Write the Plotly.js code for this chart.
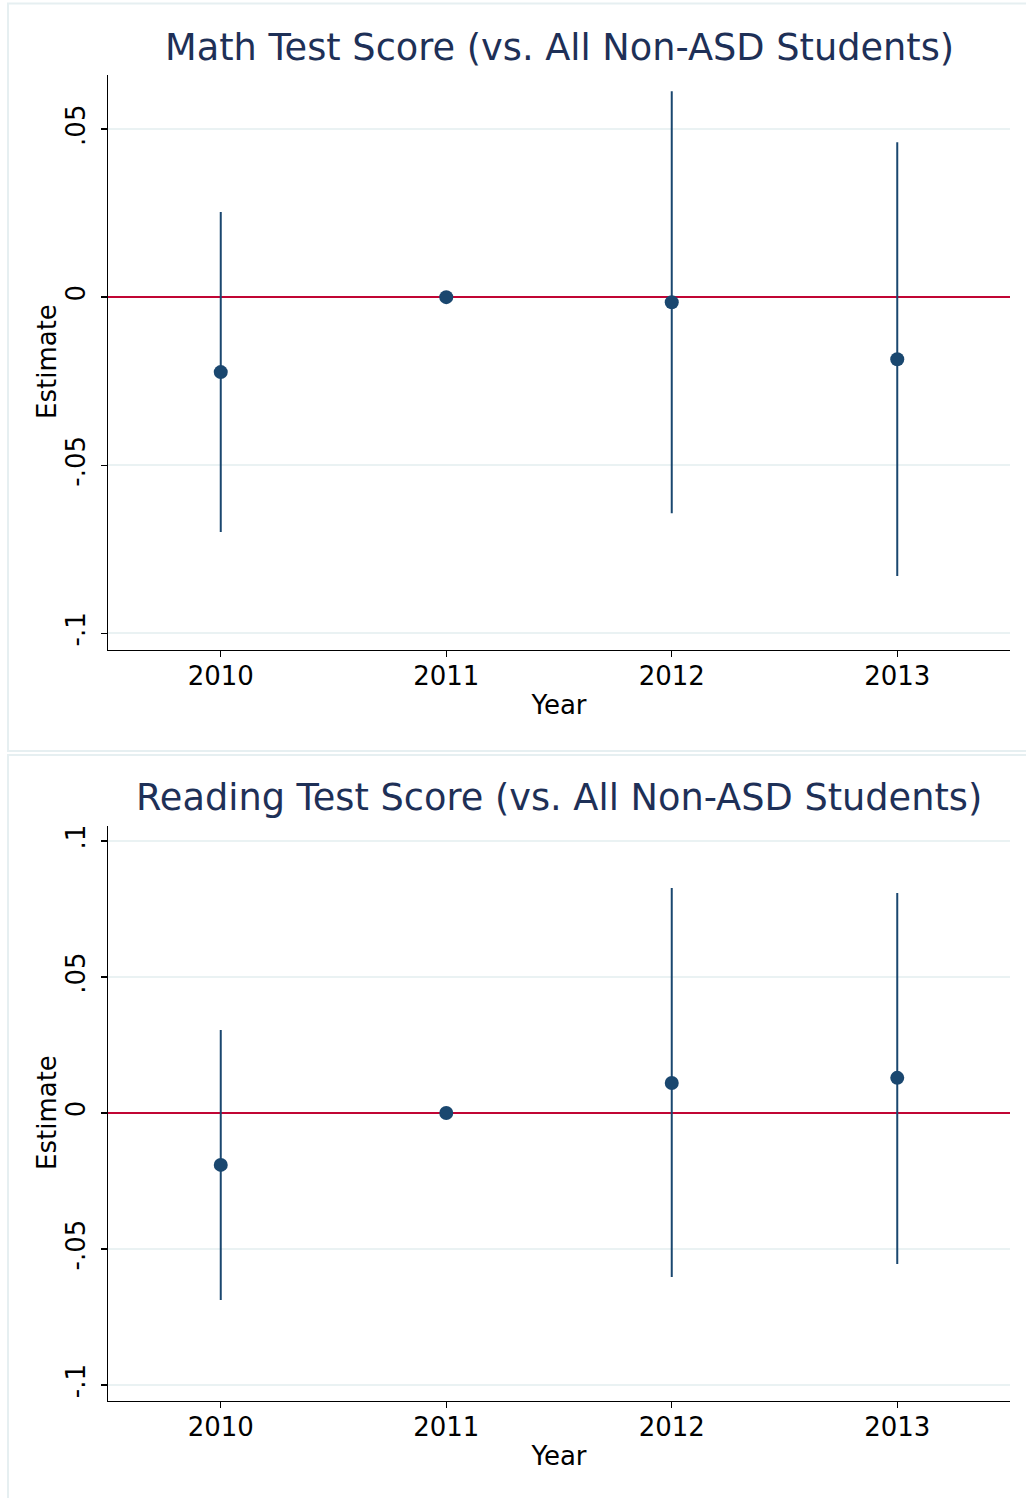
<!DOCTYPE html>
<html><head><meta charset="utf-8">
<script src="https://cdn.plot.ly/plotly-3.0.1.min.js"></script>
<style>html,body{margin:0;padding:0;background:#fff}</style>
</head><body><div id="chart" style="width:1026px;height:1498px"></div>
<script>
const years = [2010, 2011, 2012, 2013];
const yearLabels = ['2010', '2011', '2012', '2013'];
const mathEst = [-0.0223, 0, -0.0015, -0.0185];
const mathLo = [-0.0699, 0, -0.0643, -0.0830];
const mathHi = [0.0253, 0, 0.0613, 0.0461];
const readEst = [-0.0191, 0, 0.0110, 0.0129];
const readLo = [-0.0688, 0, -0.0603, -0.0555];
const readHi = [0.0305, 0, 0.0827, 0.0809];
const mathTickVals = [-0.1, -0.05, 0, 0.05];
const mathTickText = ['-.1', '-.05', '0', '.05'];
const readTickVals = [-0.1, -0.05, 0, 0.05, 0.1];
const readTickText = ['-.1', '-.05', '0', '.05', '.1'];
const panelTitles = ['Math Test Score (vs. All Non-ASD Students)', 'Reading Test Score (vs. All Non-ASD Students)'];
const xTitle = 'Year';
const yTitle = 'Estimate';

const W = 1026, H = 1498;
const navy = '#1a476f';
const FONT = 'DejaVu Sans, sans-serif';

function ciTrace(est, lo, hi, xa, ya) {
  return {
    type: 'scatter', mode: 'markers', x: years, y: est, xaxis: xa, yaxis: ya,
    marker: {color: navy, size: 14},
    error_y: {type: 'data', symmetric: false,
      array: hi.map((h, i) => h - est[i]),
      arrayminus: lo.map((l, i) => est[i] - l),
      color: navy, thickness: 2, width: 0},
    hoverinfo: 'skip', showlegend: false
  };
}

const data = [ciTrace(mathEst, mathLo, mathHi, 'x', 'y'), ciTrace(readEst, readLo, readHi, 'x2', 'y2')];

function px(v) { return v / W; }
function py(v) { return 1 - v / H; }

const xaxisBase = {
  range: [2009.5, 2013.5], tickvals: years, ticktext: yearLabels,
  showgrid: false, zeroline: false, showline: true, linecolor: '#000', linewidth: 1.3,
  ticks: 'outside', ticklen: 6, tickwidth: 1.3, tickcolor: '#000', ticklabelstandoff: -4,
  tickfont: {family: FONT, size: 26, color: '#000'},
  title: {text: xTitle, font: {family: FONT, size: 26, color: '#000'}, standoff: 6},
  domain: [px(108), px(1010)], fixedrange: true
};
function yaxisBase(range, tv, tt, dom, anchor) {
  return {
    range: range, tickvals: tv, ticktext: tt, tickangle: -90,
    showgrid: true, gridcolor: '#eaf2f3', gridwidth: 2,
    zeroline: true, zerolinecolor: '#c10534', zerolinewidth: 2,
    showline: true, linecolor: '#000', linewidth: 1.3,
    ticks: 'outside', ticklen: 6, tickwidth: 1.3, tickcolor: '#000', ticklabelstandoff: 5,
    tickfont: {family: FONT, size: 26, color: '#000'},
    domain: dom, anchor: anchor, fixedrange: true
  };
}

const layout = {
  width: W, height: H, margin: {l: 0, r: 0, t: 0, b: 0},
  paper_bgcolor: '#fff', plot_bgcolor: '#fff', showlegend: false,
  xaxis: Object.assign({}, xaxisBase, {anchor: 'y'}),
  yaxis: yaxisBase([-0.105, 0.0661], mathTickVals, mathTickText, [py(650), py(75)], 'x'),
  xaxis2: Object.assign({}, xaxisBase, {anchor: 'y2'}),
  yaxis2: yaxisBase([-0.1059, 0.1055], readTickVals, readTickText, [py(1401), py(826)], 'x2'),
  shapes: [
    {type: 'rect', xref: 'paper', yref: 'paper', x0: px(8), x1: px(1030), y0: py(751), y1: py(3.5),
      line: {color: '#e6eff1', width: 2}, layer: 'below'},
    {type: 'rect', xref: 'paper', yref: 'paper', x0: px(8), x1: px(1030), y0: py(1500), y1: py(755),
      line: {color: '#e6eff1', width: 2}, layer: 'below'}
  ],
  annotations: [
    {text: panelTitles[0], xref: 'paper', yref: 'paper', x: px(559), y: py(47), xanchor: 'center', yanchor: 'middle',
      showarrow: false, font: {family: FONT, size: 36.7, color: '#1e3057'}},
    {text: panelTitles[1], xref: 'paper', yref: 'paper', x: px(559), y: py(798), xanchor: 'center', yanchor: 'middle',
      showarrow: false, font: {family: FONT, size: 36.7, color: '#1e3057'}},
    {text: yTitle, xref: 'paper', yref: 'paper', x: px(47), y: py(362), xanchor: 'center', yanchor: 'middle',
      textangle: -90, showarrow: false, font: {family: FONT, size: 26, color: '#000'}},
    {text: yTitle, xref: 'paper', yref: 'paper', x: px(47), y: py(1113), xanchor: 'center', yanchor: 'middle',
      textangle: -90, showarrow: false, font: {family: FONT, size: 26, color: '#000'}}
  ]
};

Plotly.newPlot('chart', data, layout, {staticPlot: true, displayModeBar: false});
</script></body></html>
